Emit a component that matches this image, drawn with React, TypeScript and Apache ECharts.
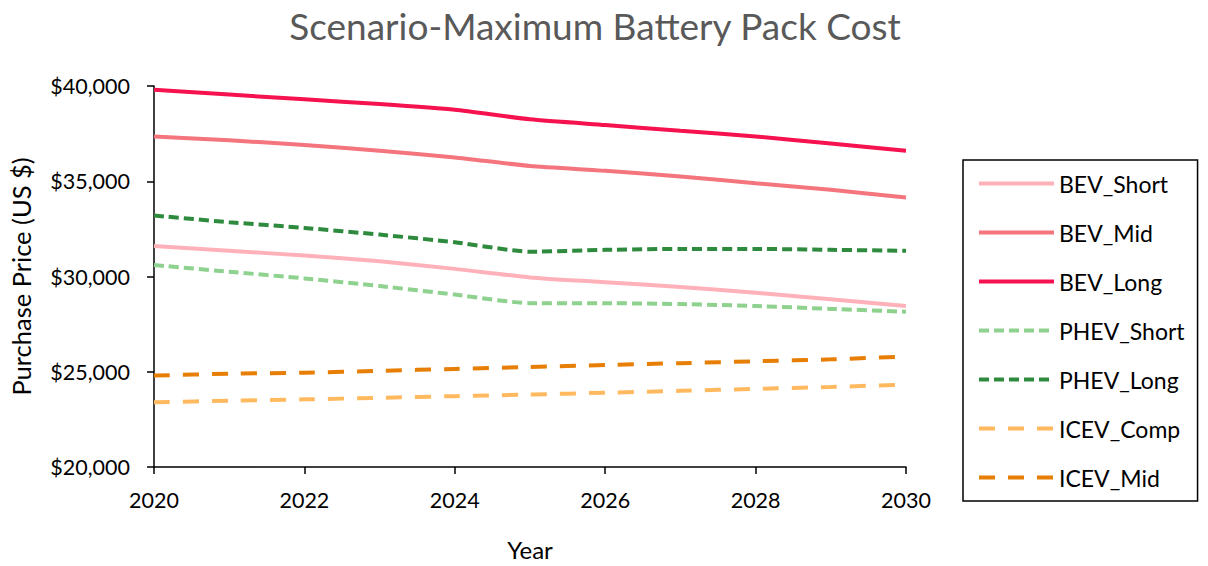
import React, { useEffect, useRef } from "react";
import * as echarts from "echarts";

const years = [2020, 2021, 2022, 2023, 2024, 2025, 2026, 2027, 2028, 2029, 2030];
const bevShort = [31600, 31350, 31100, 30800, 30400, 29950, 29700, 29450, 29150, 28800, 28450];
const bevMid = [37350, 37150, 36900, 36600, 36250, 35800, 35550, 35250, 34900, 34550, 34150];
const bevLong = [39800, 39550, 39300, 39050, 38750, 38250, 37950, 37650, 37350, 36980, 36600];
const phevShort = [30600, 30250, 29900, 29500, 29050, 28600, 28600, 28550, 28450, 28300, 28150];
const phevLong = [33200, 32850, 32550, 32200, 31800, 31300, 31400, 31450, 31450, 31400, 31350];
const icevComp = [23400, 23480, 23550, 23630, 23720, 23800, 23900, 24000, 24100, 24200, 24330];
const icevMid = [24800, 24900, 24950, 25050, 25150, 25250, 25350, 25450, 25550, 25650, 25800];

const seriesDefs = [
  { name: "BEV_Short", data: bevShort, color: "#FFB1B9", dash: "solid" as any },
  { name: "BEV_Mid", data: bevMid, color: "#F4757D", dash: "solid" as any },
  { name: "BEV_Long", data: bevLong, color: "#F5124F", dash: "solid" as any },
  { name: "PHEV_Short", data: phevShort, color: "#8FD18F", dash: [10, 5] as any },
  { name: "PHEV_Long", data: phevLong, color: "#2E8B3E", dash: [10, 5] as any },
  { name: "ICEV_Comp", data: icevComp, color: "#FFBA60", dash: [16, 13] as any },
  { name: "ICEV_Mid", data: icevMid, color: "#E77E06", dash: [16, 13] as any },
];

const FONT = "Lato, 'Open Sans', sans-serif";

export default function App() {
  const ref = useRef<HTMLDivElement>(null);
  useEffect(() => {
    if (!ref.current) return;
    const chart = echarts.init(ref.current, null, { renderer: "svg" });
    chart.setOption({
      animation: false,
      backgroundColor: "#ffffff",
      textStyle: { fontFamily: FONT },
      title: {
        text: "Scenario-Maximum Battery Pack Cost",
        left: 590,
        top: 2,
        textAlign: "center",
        textStyle: { fontFamily: FONT, fontSize: 37, fontWeight: "normal", color: "#595959" },
      },
      grid: { left: 152, right: 302, top: 86, bottom: 90, containLabel: false },
      legend: {
        orient: "vertical",
        left: 963,
        top: 160,
        width: 236,
        padding: [12, 13, 12, 14],
        itemWidth: 75,
        itemHeight: 20,
        itemGap: 26,
        borderColor: "#000",
        borderWidth: 1.5,
        itemStyle: { opacity: 0 },
        lineStyle: { width: 4 },
        textStyle: { fontFamily: FONT, fontSize: 23, color: "#000" },
        data: seriesDefs.map((s) => s.name),
      },
      xAxis: {
        type: "value",
        min: 2020,
        max: 2030,
        interval: 2,
        name: "Year",
        nameLocation: "middle",
        nameGap: 70,
        nameTextStyle: { fontFamily: FONT, fontSize: 24, color: "#000" },
        axisLine: { lineStyle: { color: "#000", width: 1.5 } },
        axisTick: { show: true, length: 7, inside: false, lineStyle: { color: "#000", width: 1.5 } },
        axisLabel: {
          fontFamily: FONT,
          fontSize: 21.5,
          color: "#000",
          margin: 22,
          formatter: (v: number) => String(v),
        },
        splitLine: { show: false },
      },
      yAxis: {
        type: "value",
        min: 20000,
        max: 40000,
        interval: 5000,
        name: "Purchase Price (US $)",
        nameLocation: "middle",
        nameGap: 120,
        nameTextStyle: { fontFamily: FONT, fontSize: 25.5, color: "#000" },
        axisLine: { show: true, lineStyle: { color: "#000", width: 1.5 } },
        axisTick: { show: true, length: 7, lineStyle: { color: "#000", width: 1.5 } },
        axisLabel: {
          fontFamily: FONT,
          fontSize: 21.5,
          color: "#000",
          margin: 24,
          formatter: (v: number) => "$" + v.toLocaleString("en-US"),
        },
        splitLine: { show: false },
      },
      series: seriesDefs.map((s) => ({
        name: s.name,
        type: "line",
        data: years.map((y, i) => [y, s.data[i]]),
        smooth: 0.2,
        showSymbol: false,
        symbol: "none",
        color: s.color,
        lineStyle: { color: s.color, width: 4, type: s.dash },
      })),
    });
    return () => chart.dispose();
  }, []);
  return (
    <div
      ref={ref}
      style={{ position: "fixed", left: 0, top: 0, width: 1208, height: 566 }}
    />
  );
}
